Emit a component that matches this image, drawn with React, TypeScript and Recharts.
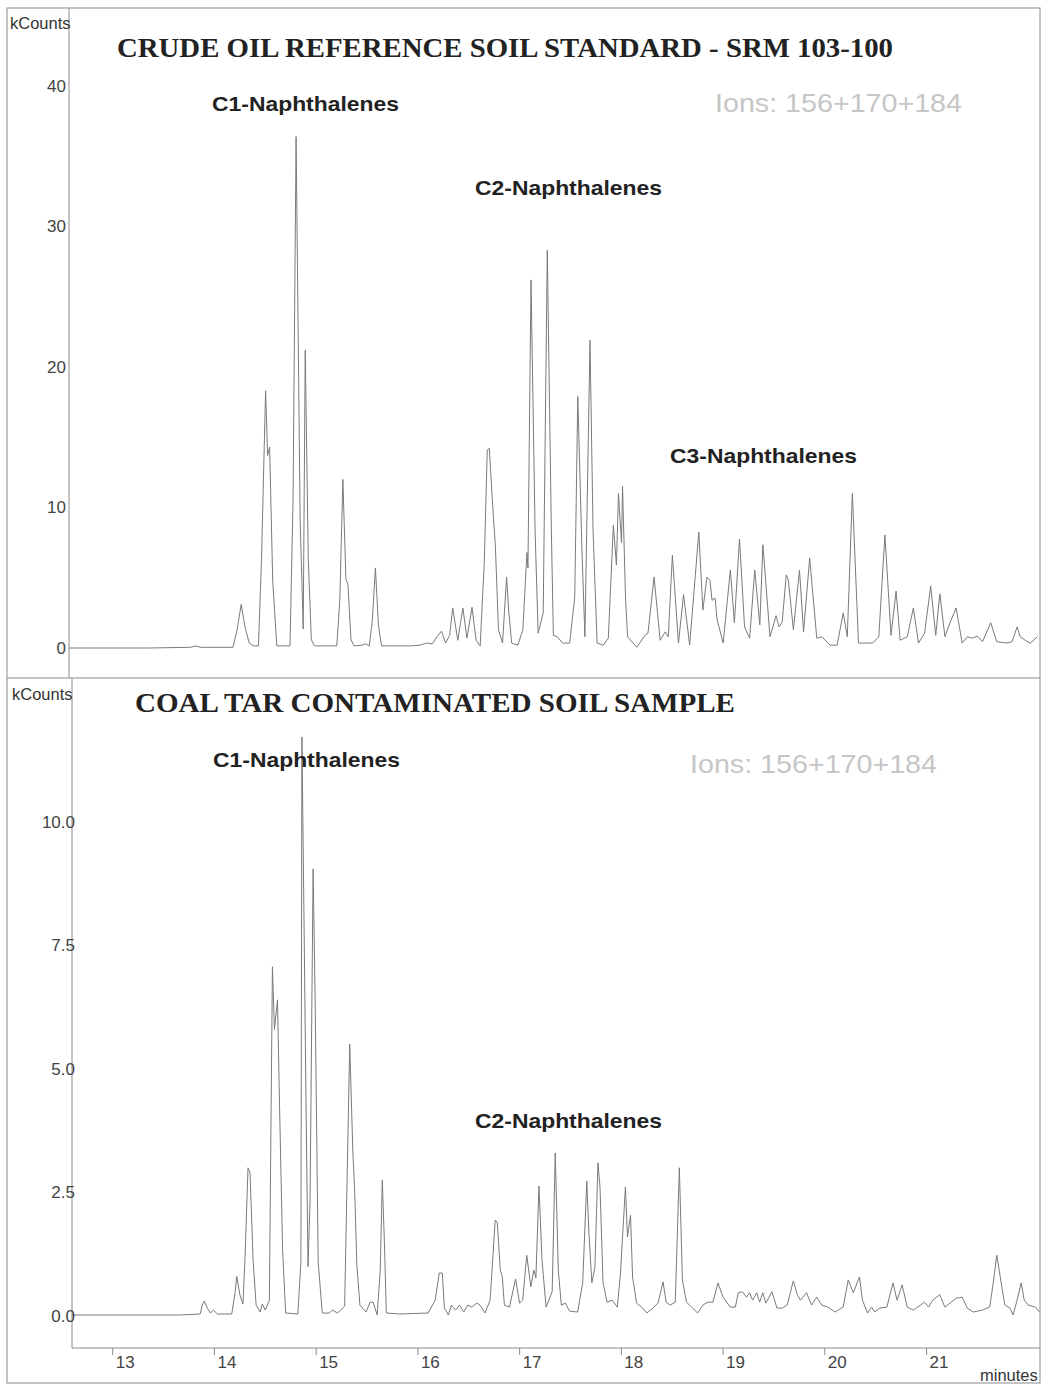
import { LineChart, Line, XAxis, YAxis } from "recharts";

// retention time (minutes) and intensity (kCounts)
const crudeTimes = [
  12.56, 13.36, 13.76, 13.81, 13.86, 14.18, 14.22, 14.26, 14.30, 14.34,
  14.38, 14.43, 14.46, 14.50, 14.52, 14.54, 14.57, 14.61, 14.74, 14.77,
  14.80, 14.84, 14.87, 14.89, 14.92, 14.95, 14.98, 15.20, 15.23, 15.26,
  15.29, 15.31, 15.34, 15.37, 15.45, 15.48, 15.52, 15.55, 15.58, 15.61,
  15.64, 15.92, 16.02, 16.08, 16.14, 16.19, 16.23, 16.27, 16.31, 16.34,
  16.39, 16.44, 16.48, 16.53, 16.57, 16.61, 16.65, 16.68, 16.70, 16.73,
  16.76, 16.79, 16.83, 16.87, 16.89, 16.92, 16.98, 17.03, 17.07, 17.08,
  17.11, 17.15, 17.18, 17.23, 17.27, 17.31, 17.33, 17.37, 17.42, 17.49,
  17.54, 17.57, 17.61, 17.64, 17.69, 17.72, 17.76, 17.82, 17.87, 17.92,
  17.95, 17.97, 18.00, 18.01, 18.04, 18.06, 18.15, 18.23, 18.26, 18.32,
  18.38, 18.43, 18.46, 18.50, 18.56, 18.61, 18.67, 18.76, 18.80, 18.84,
  18.87, 18.89, 18.92, 18.94, 19.00, 19.07, 19.11, 19.16, 19.21, 19.26,
  19.31, 19.36, 19.39, 19.46, 19.52, 19.55, 19.58, 19.62, 19.64, 19.69,
  19.75, 19.79, 19.85, 19.92, 19.97, 20.05, 20.12, 20.18, 20.22, 20.27,
  20.33, 20.47, 20.53, 20.59, 20.65, 20.70, 20.74, 20.81, 20.87, 20.92,
  20.98, 21.04, 21.09, 21.13, 21.18, 21.23, 21.29, 21.35, 21.40, 21.45,
  21.50, 21.55, 21.63, 21.69, 21.79, 21.84, 21.89, 21.92, 21.97, 22.02,
  22.09,
];
const crudeCounts = [
  0, 0, 0.05, 0.15, 0.05, 0.05, 1.3, 3.1, 1.4, 0.35,
  0.15, 0.15, 6.3, 18.3, 13.7, 14.3, 4.8, 0.15, 0.15, 10.5,
  36.4, 9.1, 1.35, 21.2, 6.3, 0.6, 0.15, 0.15, 3.4, 12.0,
  4.9, 4.5, 0.6, 0.15, 0.2, 0.3, 0.15, 2.0, 5.7, 1.6,
  0.15, 0.15, 0.2, 0.35, 0.3, 0.85, 1.2, 0.35, 0.9, 2.85,
  0.55, 2.85, 0.7, 2.9, 0.55, 0.15, 6.0, 14.1, 14.2, 10.5,
  7.2, 1.3, 0.35, 5.05, 2.7, 0.35, 0.2, 1.3, 6.8, 5.7,
  26.2, 8.4, 1.05, 2.5, 28.3, 8.4, 0.9, 0.8, 0.35, 0.35,
  3.6, 17.9, 7.2, 0.8, 21.9, 8.4, 0.35, 0.2, 0.7, 8.75,
  5.9, 11.0, 7.5, 11.5, 3.4, 0.8, 0.05, 0.9, 1.05, 5.05,
  0.55, 1.15, 0.8, 6.6, 0.35, 3.8, 0.2, 8.25, 2.7, 5.05,
  4.8, 3.4, 3.55, 2.0, 0.35, 5.55, 1.8, 7.75, 1.5, 0.7,
  5.55, 1.65, 7.35, 0.8, 2.3, 1.5, 1.85, 5.2, 4.85, 1.3,
  5.55, 1.15, 6.4, 0.7, 0.8, 0.2, 0.2, 2.5, 0.8, 11.0,
  0.35, 0.35, 0.8, 8.05, 0.9, 4.05, 0.55, 0.8, 2.85, 0.35,
  1.05, 4.4, 0.9, 3.85, 0.8, 1.8, 2.85, 0.35, 0.8, 0.7,
  0.85, 0.45, 1.8, 0.45, 0.35, 0.45, 1.5, 0.8, 0.55, 0.35,
  0.8,
];

const coalTimes = [
  12.60, 13.66, 13.86, 13.88, 13.90, 13.93, 13.96, 13.99, 14.03, 14.17,
  14.20, 14.22, 14.25, 14.28, 14.30, 14.33, 14.35, 14.38, 14.41, 14.45,
  14.47, 14.50, 14.54, 14.57, 14.59, 14.62, 14.64, 14.67, 14.70, 14.82,
  14.85, 14.86, 14.88, 14.90, 14.92, 14.94, 14.97, 14.99, 15.02, 15.06,
  15.13, 15.16, 15.21, 15.28, 15.30, 15.33, 15.36, 15.38, 15.40, 15.43,
  15.49, 15.53, 15.56, 15.60, 15.63, 15.65, 15.67, 15.69, 15.82, 16.10,
  16.17, 16.21, 16.24, 16.26, 16.30, 16.33, 16.37, 16.41, 16.45, 16.49,
  16.53, 16.58, 16.61, 16.66, 16.71, 16.76, 16.78, 16.81, 16.83, 16.85,
  16.90, 16.96, 17.00, 17.03, 17.07, 17.11, 17.14, 17.16, 17.19, 17.22,
  17.26, 17.32, 17.35, 17.38, 17.41, 17.45, 17.49, 17.57, 17.62, 17.66,
  17.68, 17.71, 17.74, 17.77, 17.79, 17.82, 17.86, 17.91, 17.96, 17.99,
  18.04, 18.06, 18.09, 18.11, 18.15, 18.20, 18.25, 18.31, 18.36, 18.41,
  18.44, 18.48, 18.53, 18.57, 18.60, 18.64, 18.69, 18.75, 18.80, 18.85,
  18.90, 18.95, 19.00, 19.07, 19.12, 19.15, 19.19, 19.23, 19.26, 19.29,
  19.33, 19.36, 19.39, 19.42, 19.48, 19.53, 19.58, 19.63, 19.69, 19.73,
  19.76, 19.82, 19.87, 19.92, 19.97, 20.03, 20.10, 20.18, 20.23, 20.28,
  20.34, 20.37, 20.42, 20.46, 20.49, 20.54, 20.61, 20.67, 20.71, 20.76,
  20.81, 20.87, 20.94, 20.98, 21.02, 21.06, 21.13, 21.18, 21.23, 21.29,
  21.35, 21.40, 21.46, 21.55, 21.62, 21.65, 21.69, 21.74, 21.77, 21.82,
  21.85, 21.89, 21.93, 21.96, 22.00, 22.07, 22.11,
];
const coalCounts = [
  0.02, 0.02, 0.04, 0.22, 0.3, 0.16, 0.06, 0.12, 0.04, 0.04,
  0.43, 0.8, 0.43, 0.24, 1.13, 3.0, 2.9, 1.13, 0.22, 0.08,
  0.24, 0.12, 0.32, 7.07, 5.8, 6.4, 4.27, 1.34, 0.06, 0.04,
  1.09, 11.72, 8.1, 4.37, 1.0, 2.35, 9.05, 6.4, 1.09, 0.06,
  0.06, 0.12, 0.06, 0.2, 2.35, 5.5, 3.36, 2.45, 1.03, 0.22,
  0.08, 0.28, 0.28, 0.02, 0.93, 2.75, 1.54, 0.06, 0.04, 0.06,
  0.32, 0.87, 0.87, 0.16, 0.02, 0.22, 0.12, 0.22, 0.08, 0.22,
  0.18, 0.26, 0.22, 0.06, 0.32, 1.94, 1.9, 0.93, 0.79, 0.22,
  0.18, 0.75, 0.26, 0.32, 1.23, 0.59, 0.93, 0.77, 2.63, 1.13,
  0.18, 0.49, 3.3, 0.93, 0.22, 0.26, 0.1, 0.08, 0.67, 2.73,
  1.74, 0.67, 0.99, 3.1, 2.61, 0.67, 0.28, 0.32, 0.18, 0.83,
  2.61, 1.6, 2.04, 0.79, 0.26, 0.18, 0.06, 0.16, 0.26, 0.69,
  0.28, 0.22, 0.28, 3.0, 0.73, 0.28, 0.18, 0.06, 0.22, 0.28,
  0.28, 0.67, 0.38, 0.18, 0.18, 0.47, 0.49, 0.38, 0.47, 0.32,
  0.47, 0.28, 0.47, 0.26, 0.49, 0.16, 0.16, 0.22, 0.71, 0.43,
  0.32, 0.47, 0.22, 0.38, 0.22, 0.18, 0.08, 0.18, 0.73, 0.47,
  0.79, 0.32, 0.06, 0.18, 0.08, 0.16, 0.18, 0.67, 0.32, 0.63,
  0.18, 0.12, 0.22, 0.28, 0.18, 0.32, 0.43, 0.18, 0.26, 0.36,
  0.38, 0.16, 0.08, 0.12, 0.18, 0.59, 1.23, 0.59, 0.22, 0.16,
  0.02, 0.32, 0.67, 0.32, 0.22, 0.18, 0.08,
];

const crudeTicks = [0, 10, 20, 30, 40];
const coalTicks = [0, 2.5, 5, 7.5, 10];
const minuteTicks = [13, 14, 15, 16, 17, 18, 19, 20, 21];

const crudeData = crudeTimes.map((t, i) => ({ t, v: crudeCounts[i] }));
const coalData = coalTimes.map((t, i) => ({ t, v: coalCounts[i] }));

const SANS = "'Liberation Sans', Arial, sans-serif";
const SERIF = "'Liberation Serif', 'Times New Roman', serif";
const TRACE = "#7a7a7a";
const FRAME = "#8a8a8a";

function YTick({ y, payload, right, digits }: any) {
  return (
    <text x={right} y={y + 6} textAnchor="end" fontSize={17} fontFamily={SANS} fill="#444">
      {digits ? Number(payload.value).toFixed(digits) : payload.value}
    </text>
  );
}

function XTick({ x, y, payload }: any) {
  return (
    <text x={x + 3} y={y + 11} textAnchor="start" fontSize={17} fontFamily={SANS} fill="#444">
      {payload.value}
    </text>
  );
}

export default function App() {
  const label = { fontFamily: SANS, fontWeight: 700, fontSize: 21, fill: "#222" } as const;
  const title = { fontFamily: SERIF, fontWeight: 700, fontSize: 27, fill: "#222" } as const;
  const ions = { fontFamily: SANS, fontSize: 26, fill: "#c6c6c6" } as const;
  const small = { fontFamily: SANS, fontSize: 16.5, fill: "#333" } as const;

  return (
    <div style={{ position: "absolute", left: 0, top: 0, width: 1042, height: 1385, background: "#fff" }}>
      <div style={{ position: "absolute", left: 0, top: 0 }}>
        <LineChart width={1042} height={678} data={crudeData} margin={{ top: 8, right: 2, bottom: 0, left: 0 }}>
          <XAxis type="number" dataKey="t" domain={[12.567, 22.115]} allowDataOverflow hide height={0} />
          <YAxis
            type="number"
            width={69}
            domain={[-2.135, 45.55]}
            ticks={crudeTicks}
            allowDataOverflow
            tickLine={false}
            axisLine={{ stroke: FRAME }}
            tick={<YTick right={66} />}
          />
          <Line type="linear" dataKey="v" stroke={TRACE} strokeWidth={1} dot={false} isAnimationActive={false} />
        </LineChart>
      </div>
      <div style={{ position: "absolute", left: 0, top: 678 }}>
        <LineChart width={1042} height={707} data={coalData} margin={{ top: 0, right: 2, bottom: 0, left: 0 }}>
          <XAxis
            type="number"
            dataKey="t"
            domain={[12.6, 22.115]}
            allowDataOverflow
            ticks={minuteTicks}
            height={37}
            tickSize={7}
            tickLine={{ stroke: FRAME }}
            axisLine={{ stroke: FRAME }}
            tick={<XTick />}
          />
          <YAxis
            type="number"
            width={72}
            domain={[-0.648, 12.915]}
            ticks={coalTicks}
            allowDataOverflow
            tickLine={false}
            axisLine={{ stroke: FRAME }}
            tick={<YTick right={75} digits={1} />}
          />
          <Line type="linear" dataKey="v" stroke={TRACE} strokeWidth={1} dot={false} isAnimationActive={false} />
        </LineChart>
      </div>
      <svg width={1042} height={1385} style={{ position: "absolute", left: 0, top: 0, pointerEvents: "none" }}>
        <rect x={7} y={8} width={1033} height={1375} fill="none" stroke={FRAME} />
        <line x1={7} x2={1040} y1={678} y2={678} stroke={FRAME} />

        <text x={10} y={29} {...small}>kCounts</text>
        <text x={12} y={700} {...small}>kCounts</text>
        <text x={980} y={1381} {...small}>minutes</text>

        <text x={117} y={57} {...title} textLength={776} lengthAdjust="spacingAndGlyphs">
          CRUDE OIL REFERENCE SOIL STANDARD - SRM 103-100
        </text>
        <text x={135} y={712} {...title} textLength={600} lengthAdjust="spacingAndGlyphs">
          COAL TAR CONTAMINATED SOIL SAMPLE
        </text>

        <text x={715} y={112} {...ions} textLength={247} lengthAdjust="spacingAndGlyphs">Ions: 156+170+184</text>
        <text x={690} y={773} {...ions} textLength={247} lengthAdjust="spacingAndGlyphs">Ions: 156+170+184</text>

        <text x={212} y={111} {...label} textLength={187} lengthAdjust="spacingAndGlyphs">C1-Naphthalenes</text>
        <text x={475} y={195} {...label} textLength={187} lengthAdjust="spacingAndGlyphs">C2-Naphthalenes</text>
        <text x={670} y={463} {...label} textLength={187} lengthAdjust="spacingAndGlyphs">C3-Naphthalenes</text>
        <text x={213} y={767} {...label} textLength={187} lengthAdjust="spacingAndGlyphs">C1-Naphthalenes</text>
        <text x={475} y={1128} {...label} textLength={187} lengthAdjust="spacingAndGlyphs">C2-Naphthalenes</text>
      </svg>
    </div>
  );
}
